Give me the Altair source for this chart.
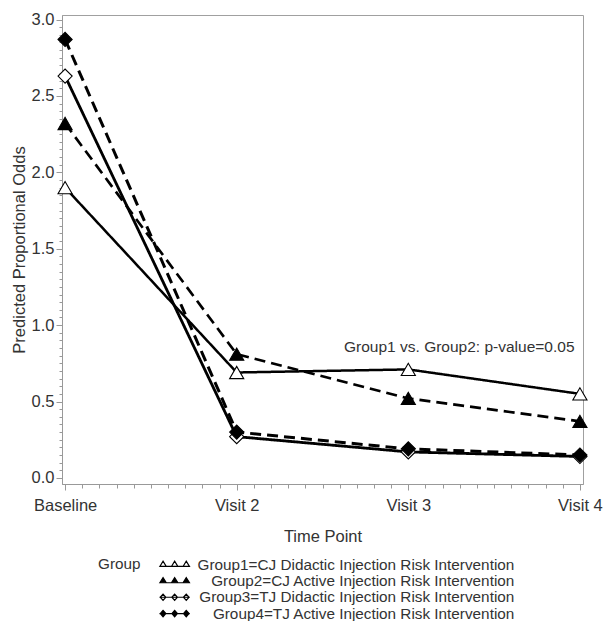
import altair as alt
import pandas as pd

time_labels = ["Baseline", "Visit 2", "Visit 3", "Visit 4"]
time_index = [1, 2, 3, 4]
group_names = [
    "Group1=CJ Didactic Injection Risk Intervention",
    "Group2=CJ Active Injection Risk Intervention",
    "Group3=TJ Didactic Injection Risk Intervention",
    "Group4=TJ Active Injection Risk Intervention",
]
group1 = [1.90, 0.69, 0.71, 0.55]
group2 = [2.32, 0.81, 0.52, 0.37]
group3 = [2.63, 0.27, 0.17, 0.14]
group4 = [2.87, 0.30, 0.19, 0.15]
annotation = "Group1 vs. Group2: p-value=0.05"

rows = []
for name, vals in zip(group_names, [group1, group2, group3, group4]):
    for t, v in zip(time_index, vals):
        rows.append({"Group": name, "t": t, "odds": v})
df = pd.DataFrame(rows)

FONT = "Liberation Sans"
TXT = "#333333"
AX = "#999999"

x_vals = [round(1 + i * 0.1, 1) for i in range(31)]
y_vals = [round(i * 0.05, 2) for i in range(61)]
lab_js = "[" + ",".join("'" + s + "'" for s in time_labels) + "]"

x_enc = alt.X(
    "t:Q",
    title="Time Point",
    scale=alt.Scale(domain=[0.982, 4.018], nice=False, zero=False),
    axis=alt.Axis(
        values=x_vals, tickCount=200,
        labelExpr=f"abs(datum.value - round(datum.value)) < 0.001 ? {lab_js}[round(datum.value) - 1] : ''",
        tickSize={"condition": {"test": "abs(datum.value - round(datum.value)) < 0.001", "value": 6}, "value": 4},
        labelOverlap=False, labelFlush=False, grid=False,
        domainColor=AX, tickColor=AX, labelColor=TXT, titleColor=TXT,
        labelFont=FONT, titleFont=FONT, labelFontSize=16.5, titleFontSize=16.5,
        titleFontWeight="normal", labelPadding=7, titlePadding=15,
    ),
)
y_enc = alt.Y(
    "odds:Q",
    title="Predicted Proportional Odds",
    scale=alt.Scale(domain=[-0.04, 3.03], nice=False, zero=False),
    axis=alt.Axis(
        values=y_vals, tickCount=200,
        labelExpr="abs(datum.value * 2 - round(datum.value * 2)) < 0.001 ? format(datum.value, '.1f') : ''",
        tickSize={"condition": {"test": "abs(datum.value * 2 - round(datum.value * 2)) < 0.001", "value": 6}, "value": 3},
        labelOverlap=False, labelFlush=False, grid=False,
        domainColor=AX, tickColor=AX, labelColor=TXT, titleColor=TXT,
        labelFont=FONT, titleFont=FONT, labelFontSize=16.5, titleFontSize=16.5,
        titleFontWeight="normal", labelPadding=2, titlePadding=4,
    ),
)

base = alt.Chart(df)

lines = base.mark_line(color="black").encode(
    x=x_enc, y=y_enc,
    detail="Group:N",
    strokeDash=alt.StrokeDash("Group:N", scale=alt.Scale(domain=group_names, range=[[1, 0], [11, 6], [1, 0], [11, 6]]), legend=None),
    strokeWidth=alt.StrokeWidth("Group:N", scale=alt.Scale(domain=group_names, range=[2.5, 3, 2.5, 3.5]), legend=None),
    order="t:Q",
)

markers = base.mark_point(filled=True, stroke="black", strokeWidth=1.1, opacity=1).encode(
    x="t:Q", y="odds:Q",
    shape=alt.Shape("Group:N", scale=alt.Scale(domain=group_names, range=["triangle-up", "triangle-up", "diamond", "diamond"]), legend=None),
    fill=alt.Fill("Group:N", scale=alt.Scale(domain=group_names, range=["white", "black", "white", "black"]), legend=None),
    size=alt.Size("Group:N", scale=alt.Scale(domain=group_names, range=[200, 200, 170, 170]), legend=None),
)


def tri(cx):
    return f"M{cx - 0.8},0.45L{cx},-0.85L{cx + 0.8},0.45Z"


def dia(cx):
    return f"M{cx - 0.7},0L{cx},-0.8L{cx + 0.7},0L{cx},0.8Z"


centers = [-2.9, 0, 2.9]
tri_path = "M-3.8,0.45L3.8,0.45" + "".join(tri(c) for c in centers)
dia_path = "M-3.8,0L3.8,0" + "".join(dia(c) for c in centers)

leg = alt.Legend(
    title="Group", orient="none", legendX=36, legendY=542, direction="vertical",
    titleOrient="left", titleAnchor="start", titlePadding=26, titleFontWeight="normal",
    titleFontSize=15.3, titleFont=FONT, titleColor=TXT,
    labelFont=FONT, labelFontSize=15.3, labelColor=TXT, labelAlign="right",
    labelOffset=332, labelLimit=600,
    symbolSize=64, symbolStrokeWidth=1.2, symbolOpacity=1,
    rowPadding=0.3,
)

legend_layer = base.mark_point(filled=False, stroke="black", strokeWidth=1.2, opacity=0, size=64).encode(
    x="t:Q", y="odds:Q",
    shape=alt.Shape("Group:N", scale=alt.Scale(domain=group_names, range=[tri_path, tri_path, dia_path, dia_path]), legend=leg),
    fill=alt.Fill("Group:N", scale=alt.Scale(domain=group_names, range=["white", "black", "white", "black"]), legend=leg),
)

text = alt.Chart(pd.DataFrame({"label": [annotation]})).mark_text(
    font=FONT, fontSize=15.5, color=TXT, align="center", baseline="middle"
).encode(x=alt.datum(3.297), y=alt.datum(0.86), text="label:N")

chart = alt.layer(lines, markers, legend_layer, text).resolve_scale(
    shape="independent", fill="independent", size="independent"
).properties(
    width=521, height=469,
    autosize=alt.AutoSizeParams(type="none"),
    padding={"left": 62, "top": 15, "right": 20, "bottom": 137},
    background="white",
).configure_view(stroke="#a0a0a0", strokeWidth=1)

chart.save("out.html", embed_options={"renderer": "svg", "actions": False})
